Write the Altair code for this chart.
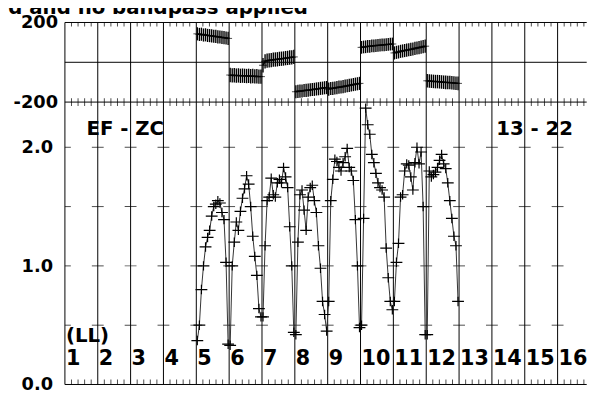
import altair as alt
import pandas as pd

# ---------------- data ----------------
TITLE = "ed and no bandpass applied"
BASELINE_LABEL = "EF - ZC"
TIME_LABEL = "13 - 22"
POL_LABEL = "(LL)"

IF_NUMBERS = list(range(1, 17))
IF_WITH_DATA = [5, 6, 7, 8, 9, 10, 11, 12]
N_CHAN = 16

AMP_5 = [0.37, 0.50, 0.80, 1.00, 1.16, 1.24, 1.30, 1.42, 1.50, 1.52, 1.55, 1.53, 1.45, 1.39, 1.03, 0.34]
AMP_6 = [0.33, 1.00, 1.20, 1.37, 1.30, 1.46, 1.57, 1.65, 1.76, 1.69, 1.50, 1.25, 1.08, 0.92, 0.64, 0.57]
AMP_7 = [0.57, 1.17, 1.55, 1.58, 1.74, 1.60, 1.58, 1.70, 1.73, 1.70, 1.83, 1.75, 1.66, 1.33, 1.00, 0.44]
AMP_8 = [0.42, 1.20, 1.60, 1.64, 1.47, 1.30, 1.58, 1.66, 1.68, 1.55, 1.45, 1.17, 0.98, 0.70, 0.59, 0.45]
AMP_9 = [0.70, 1.55, 1.73, 1.90, 1.88, 1.83, 1.80, 1.87, 1.92, 1.99, 1.83, 1.80, 1.72, 1.39, 1.00, 0.48]
AMP_10 = [0.50, 1.40, 2.33, 2.19, 2.11, 1.94, 1.87, 1.78, 1.70, 1.66, 1.64, 1.58, 1.15, 0.90, 0.70, 0.63]
AMP_11 = [0.70, 1.03, 1.19, 1.58, 1.60, 1.80, 1.86, 1.85, 1.75, 1.64, 1.87, 2.00, 1.86, 1.96, 1.50, 0.42]
AMP_12 = [0.42, 1.80, 1.75, 1.77, 1.79, 1.83, 1.89, 1.94, 1.86, 1.82, 1.70, 1.55, 1.40, 1.25, 1.17, 0.70]

PHASE_5 = [143, 140, 141, 137, 138, 135, 134, 133, 131, 130, 128, 127, 125, 124, 122, 120]
PHASE_6 = [-64, -66, -65, -67, -66, -68, -67, -68, -69, -68, -70, -69, -71, -70, -72, -72]
PHASE_7 = [-15, 5, 8, 10, 11, 13, 14, 15, 17, 18, 19, 21, 22, 24, 25, 27]
PHASE_8 = [-148, -146, -145, -144, -142, -141, -140, -138, -137, -136, -134, -133, -131, -130, -128, -127]
PHASE_9 = [-135, -132, -131, -129, -127, -125, -124, -122, -120, -118, -116, -114, -112, -110, -108, -106]
PHASE_10 = [75, 77, 78, 80, 80, 82, 83, 84, 85, 86, 87, 88, 89, 90, 91, 92]
PHASE_11 = [47, 50, 52, 55, 57, 59, 61, 63, 65, 67, 70, 72, 74, 76, 79, 81]
PHASE_12 = [-93, -94, -95, -96, -97, -97, -98, -99, -100, -101, -102, -102, -103, -104, -105, -106]
PHASE_ERR = [33, 36, 36, 33, 33, 32, 33, 34]

PHASE_LABEL_VALUES = [-200, 200]
PHASE_LABEL_TEXT = ["-200", "200"]
PHASE_LINES = [-200, 0, 200]
AMP_LABEL_VALUES = [0.0, 1.0, 2.0]
AMP_LABEL_TEXT = ["0.0", "1.0", "2.0"]
AMP_TICKS = [0.5, 1.0, 1.5, 2.0]
X_MAX = 15.886

AMPS = [AMP_5, AMP_6, AMP_7, AMP_8, AMP_9, AMP_10, AMP_11, AMP_12]
PHASES = [PHASE_5, PHASE_6, PHASE_7, PHASE_8, PHASE_9, PHASE_10, PHASE_11, PHASE_12]

# ---------------- tables ----------------
rows = []
for k, amps, phs, err in zip(IF_WITH_DATA, AMPS, PHASES, PHASE_ERR):
    for c, (a, p) in enumerate(zip(amps, phs)):
        rows.append(dict(IF=k, x=(k - 1) + (c + 0.5) / N_CHAN, amp=a,
                         phase=p, lo=p - err, hi=p + err))
df = pd.DataFrame(rows)

bounds = pd.DataFrame({"x": [i - 1 for i in IF_NUMBERS]})
inner_bounds = bounds[bounds.x > 0]
minor = pd.DataFrame({"x": [i / 5 for i in range(0, 80) if i % 5]})
cross = pd.DataFrame([dict(x=b, y=t) for b in inner_bounds.x for t in AMP_TICKS])
left_ticks = pd.DataFrame({"x": [0] * len(AMP_TICKS), "y": AMP_TICKS})
if_labels = pd.DataFrame({"x": [i - 1 for i in IF_NUMBERS],
                          "y": [0.166] * 16,
                          "t": [str(i) for i in IF_NUMBERS]})
annot = pd.DataFrame({"x": [0.03, 0.655, 13.13], "y": [0.358, 2.104, 2.104],
                      "t": [POL_LABEL, BASELINE_LABEL, TIME_LABEL]})
title_df = pd.DataFrame({"x": [-2.13], "y": [242.0], "t": [TITLE]})
phase_lab = pd.DataFrame({"x": [0, 0], "y": PHASE_LABEL_VALUES, "t": PHASE_LABEL_TEXT})
amp_lab = pd.DataFrame({"x": [0, 0, 0], "y": AMP_LABEL_VALUES, "t": AMP_LABEL_TEXT})

FONT = "DejaVu Sans"
xs = alt.Scale(domain=[0, X_MAX], nice=False, zero=False)
X = alt.X("x:Q", scale=xs, axis=None)

ps = alt.Scale(domain=[-200, 200], range=[80.7, 0], nice=False, zero=False)
asc = alt.Scale(domain=[0, 2.381], range=[367, 80.7], nice=False, zero=False)


def PY(field):
    return alt.Y(field, scale=ps, axis=None)


def AY(field):
    return alt.Y(field, scale=asc, axis=None)


# ---------- phase panel ----------
p_lines = alt.Chart(pd.DataFrame({"y": PHASE_LINES})).mark_rule(
    color="black", strokeWidth=1).encode(y=PY("y:Q"))
p_top_ticks = alt.Chart(minor).transform_calculate(yy="200").mark_tick(
    orient="vertical", size=4, thickness=1, color="black", yOffset=2).encode(
    x=X, y=PY("yy:Q"))
p_mid_ticks = alt.Chart(minor).transform_calculate(yy="-200").mark_tick(
    orient="vertical", size=8, thickness=1, color="black").encode(
    x=X, y=PY("yy:Q"))
p_err = alt.Chart(df).mark_rule(color="black", strokeWidth=1.4).encode(
    x=X, y=PY("lo:Q"), y2="hi:Q")
p_arm = alt.Chart(df).mark_tick(orient="horizontal", size=8, thickness=1,
                                color="black").encode(x=X, y=PY("phase:Q"))
p_line = alt.Chart(df).mark_line(color="black", strokeWidth=1.5).encode(
    x=X, y=PY("phase:Q"), detail="IF:N")
p_title = alt.Chart(title_df).mark_text(
    align="left", baseline="alphabetic", font=FONT, fontSize=20,
    fontWeight="bold", color="black").encode(x=X, y=PY("y:Q"), text="t:N")
p_labels = alt.Chart(phase_lab).mark_text(
    align="right", baseline="middle", dx=-7, dy=1, font=FONT, fontSize=18,
    fontWeight="bold", color="black").encode(x=X, y=PY("y:Q"), text="t:N")

phase_layer = alt.layer(p_lines, p_top_ticks, p_mid_ticks, p_err, p_arm,
                        p_line, p_title, p_labels)

# ---------- amplitude panel ----------
a_vlines = alt.Chart(bounds).mark_rule(color="black", strokeWidth=1).encode(x=X)
a_bottom = alt.Chart(pd.DataFrame({"y": [0.0]})).mark_rule(
    color="black", strokeWidth=1).encode(y=AY("y:Q"))
a_bot_ticks = alt.Chart(minor).transform_calculate(yy="0").mark_tick(
    orient="vertical", size=5, thickness=1, color="black", yOffset=-2.5).encode(
    x=X, y=AY("yy:Q"))
a_cross = alt.Chart(cross).mark_tick(orient="horizontal", size=12, thickness=1,
                                     color="black").encode(x=X, y=AY("y:Q"))
a_left = alt.Chart(left_ticks).mark_tick(orient="horizontal", size=6, thickness=1,
                                         color="black", xOffset=3).encode(
    x=X, y=AY("y:Q"))
a_line = alt.Chart(df).mark_line(color="#333333", strokeWidth=1).encode(
    x=X, y=AY("amp:Q"))
a_pts = alt.Chart(df).mark_point(shape="M-1,0L1,0M0,-0.8L0,0.8", size=144,
                                 filled=False, color="black", strokeWidth=1.2,
                                 opacity=1).encode(x=X, y=AY("amp:Q"))
a_iflab = alt.Chart(if_labels).mark_text(
    align="left", baseline="alphabetic", dx=1, font=FONT, fontSize=21,
    fontWeight="bold", color="black").encode(x=X, y=AY("y:Q"), text="t:N")
a_annot = alt.Chart(annot).mark_text(
    align="left", baseline="alphabetic", font=FONT, fontSize=20,
    fontWeight="bold", color="black").encode(x=X, y=AY("y:Q"), text="t:N")
a_labels = alt.Chart(amp_lab).mark_text(
    align="right", baseline="middle", dx=-12, dy=1, font=FONT, fontSize=18,
    fontWeight="bold", color="black").encode(x=X, y=AY("y:Q"), text="t:N")

amp_layer = alt.layer(a_vlines, a_bottom, a_bot_ticks, a_cross, a_left,
                      a_line, a_pts, a_iflab, a_annot, a_labels)

chart = alt.layer(phase_layer, amp_layer).resolve_scale(
    y="independent").properties(
    width=529, height=367,
    autosize=alt.AutoSizeParams(type="none"),
    padding={"left": 57.7, "top": 12, "right": 0.3, "bottom": 10},
).configure_view(stroke=None)

chart.save("out.html", embed_options={"renderer": "svg", "actions": False})
